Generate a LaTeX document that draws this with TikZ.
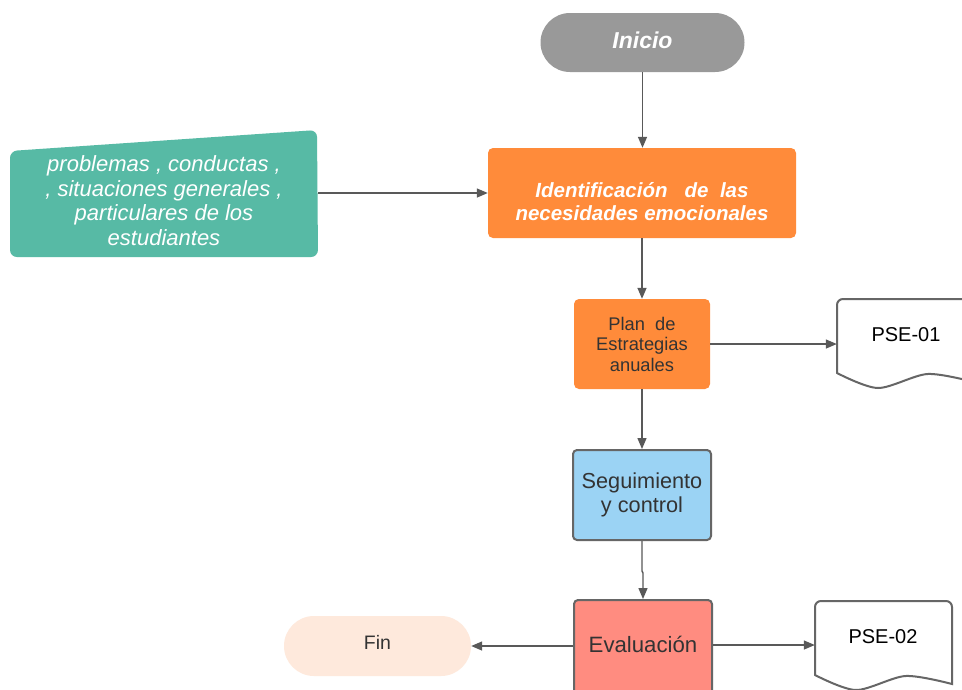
\documentclass[tikz,border=0pt]{standalone}
\usepackage{fontspec}
\setmainfont{Liberation Sans}
\usetikzlibrary{arrows.meta}
\definecolor{inigray}{HTML}{999999}
\definecolor{orangec}{HTML}{FF8B3A}
\definecolor{greenc}{HTML}{57BAA5}
\definecolor{bluec}{HTML}{9BD3F4}
\definecolor{salmonc}{HTML}{FF8C80}
\definecolor{peachc}{HTML}{FEE9DC}
\definecolor{edgegray}{HTML}{666666}
\definecolor{arrowgray}{HTML}{595959}
\definecolor{txtdark}{HTML}{333333}
\tikzset{
  base/.style={rectangle, inner sep=0pt, align=center},
  obox/.style={base, fill=orangec, rounded corners=5pt, minimum width=136pt, minimum height=90pt},
  bbox/.style={base, draw=edgegray, line width=2pt, rounded corners=4pt, minimum width=138pt, minimum height=90pt},
  pill/.style={base, rounded corners=29.5pt},
  ghost/.style={base},
  docline/.style={draw=edgegray, line width=2pt, fill=white},
  arr/.style={draw=arrowgray, line width=1.4pt, -{Triangle[length=11pt,width=9pt]}},
}
\begin{document}
\begin{tikzpicture}[x=1pt,y=-1pt]
\useasboundingbox (0,0) rectangle (962,689);
\fill[white] (0,0) rectangle (962,689);

% Inicio
\node[pill, fill=inigray, minimum width=204pt, minimum height=59pt] (ini) at (642.5,42.5) {};
\node[ghost, text=white, font=\fontsize{23}{27}\selectfont\bfseries\itshape] (initext) at (642.5,40.5) {Inicio};

% Identificacion
\node[obox, rounded corners=5pt, minimum width=308pt] (ide) at (642,193) {};
\node[ghost, text=white, font=\fontsize{20.5}{23}\selectfont\bfseries\itshape] (idetext) at (642,201.5)
      {Identificación \ \ de \ las\\necesidades emocionales};

% green input
\fill[greenc, rounded corners=7pt] (10,151) -- (317,130) -- (318,257) -- (10,257) -- cycle;
\node[ghost, minimum width=308pt, minimum height=126pt] (green) at (164,193) {};
\node[ghost, text=white, font=\fontsize{22}{24.6}\selectfont\itshape] (greentext) at (164,200.5)
  {problemas , conductas ,\\, situaciones generales ,\\particulares de los\\estudiantes};

% Plan
\node[obox, text=txtdark, font=\fontsize{18.3}{20.5}\selectfont] (plan) at (642,344)
  {Plan \ de\\Estrategias\\anuales};

% Seguimiento
\node[bbox, fill=bluec, text=txtdark, font=\fontsize{21.7}{24}\selectfont] (seg) at (642,495)
  {Seguimiento\\y control};

% Evaluacion
\node[bbox, fill=salmonc, minimum height=95pt] (eval) at (643,647.5) {};
\node[ghost, text=txtdark, font=\fontsize{22.2}{25}\selectfont] (evaltext) at (643,644) {Evaluación};

% Fin
\node[pill, fill=peachc, rounded corners=30pt, minimum width=187pt, minimum height=60pt] (fin) at (377.5,646) {};
\node[ghost, text=txtdark, font=\fontsize{19.5}{22}\selectfont] (fintext) at (377.5,642.5) {Fin};

% PSE-01 document
\draw[docline, rounded corners=6pt] (837,373) -- (837,299) -- (974,299) [sharp corners] -- (974,382)
  -- plot[smooth] coordinates {(974,382) (927.5,374) (878,388) (837,373)} -- cycle;
\node[ghost, minimum width=137pt, minimum height=90pt] (pse1) at (905.5,344) {};
\node[ghost, text=black, font=\fontsize{20}{23}\selectfont] (pse1text) at (906,334.5) {PSE-01};

% PSE-02 document
\draw[docline, rounded corners=6pt] (815,675) -- (815,601) -- (952,601) [sharp corners] -- (952,684)
  -- plot[smooth] coordinates {(952,684) (905.5,676) (856,690) (815,675)} -- cycle;
\node[ghost, minimum width=137pt, minimum height=88pt] (pse2) at (883.5,645) {};
\node[ghost, text=black, font=\fontsize{20}{23}\selectfont] (pse2text) at (883,636.5) {PSE-02};

% connectors
\draw[arr] (ini.south) -- (ini.south |- ide.north);
\draw[arr] (green.east) -- (ide.west);
\draw[arr] (ide.south) -- (plan.north);
\draw[arr] (plan.east) -- (plan.east -| pse1.west);
\draw[arr] (plan.south) -- (seg.north);
\draw[arr] (seg.south) -- ++(0,30) -- ++(1,2) -- (eval.north);
\draw[arr] (eval.west |- fin.east) -- (fin.east);
\draw[arr] (eval.east |- pse2.west) -- (pse2.west);
\end{tikzpicture}
\end{document}
